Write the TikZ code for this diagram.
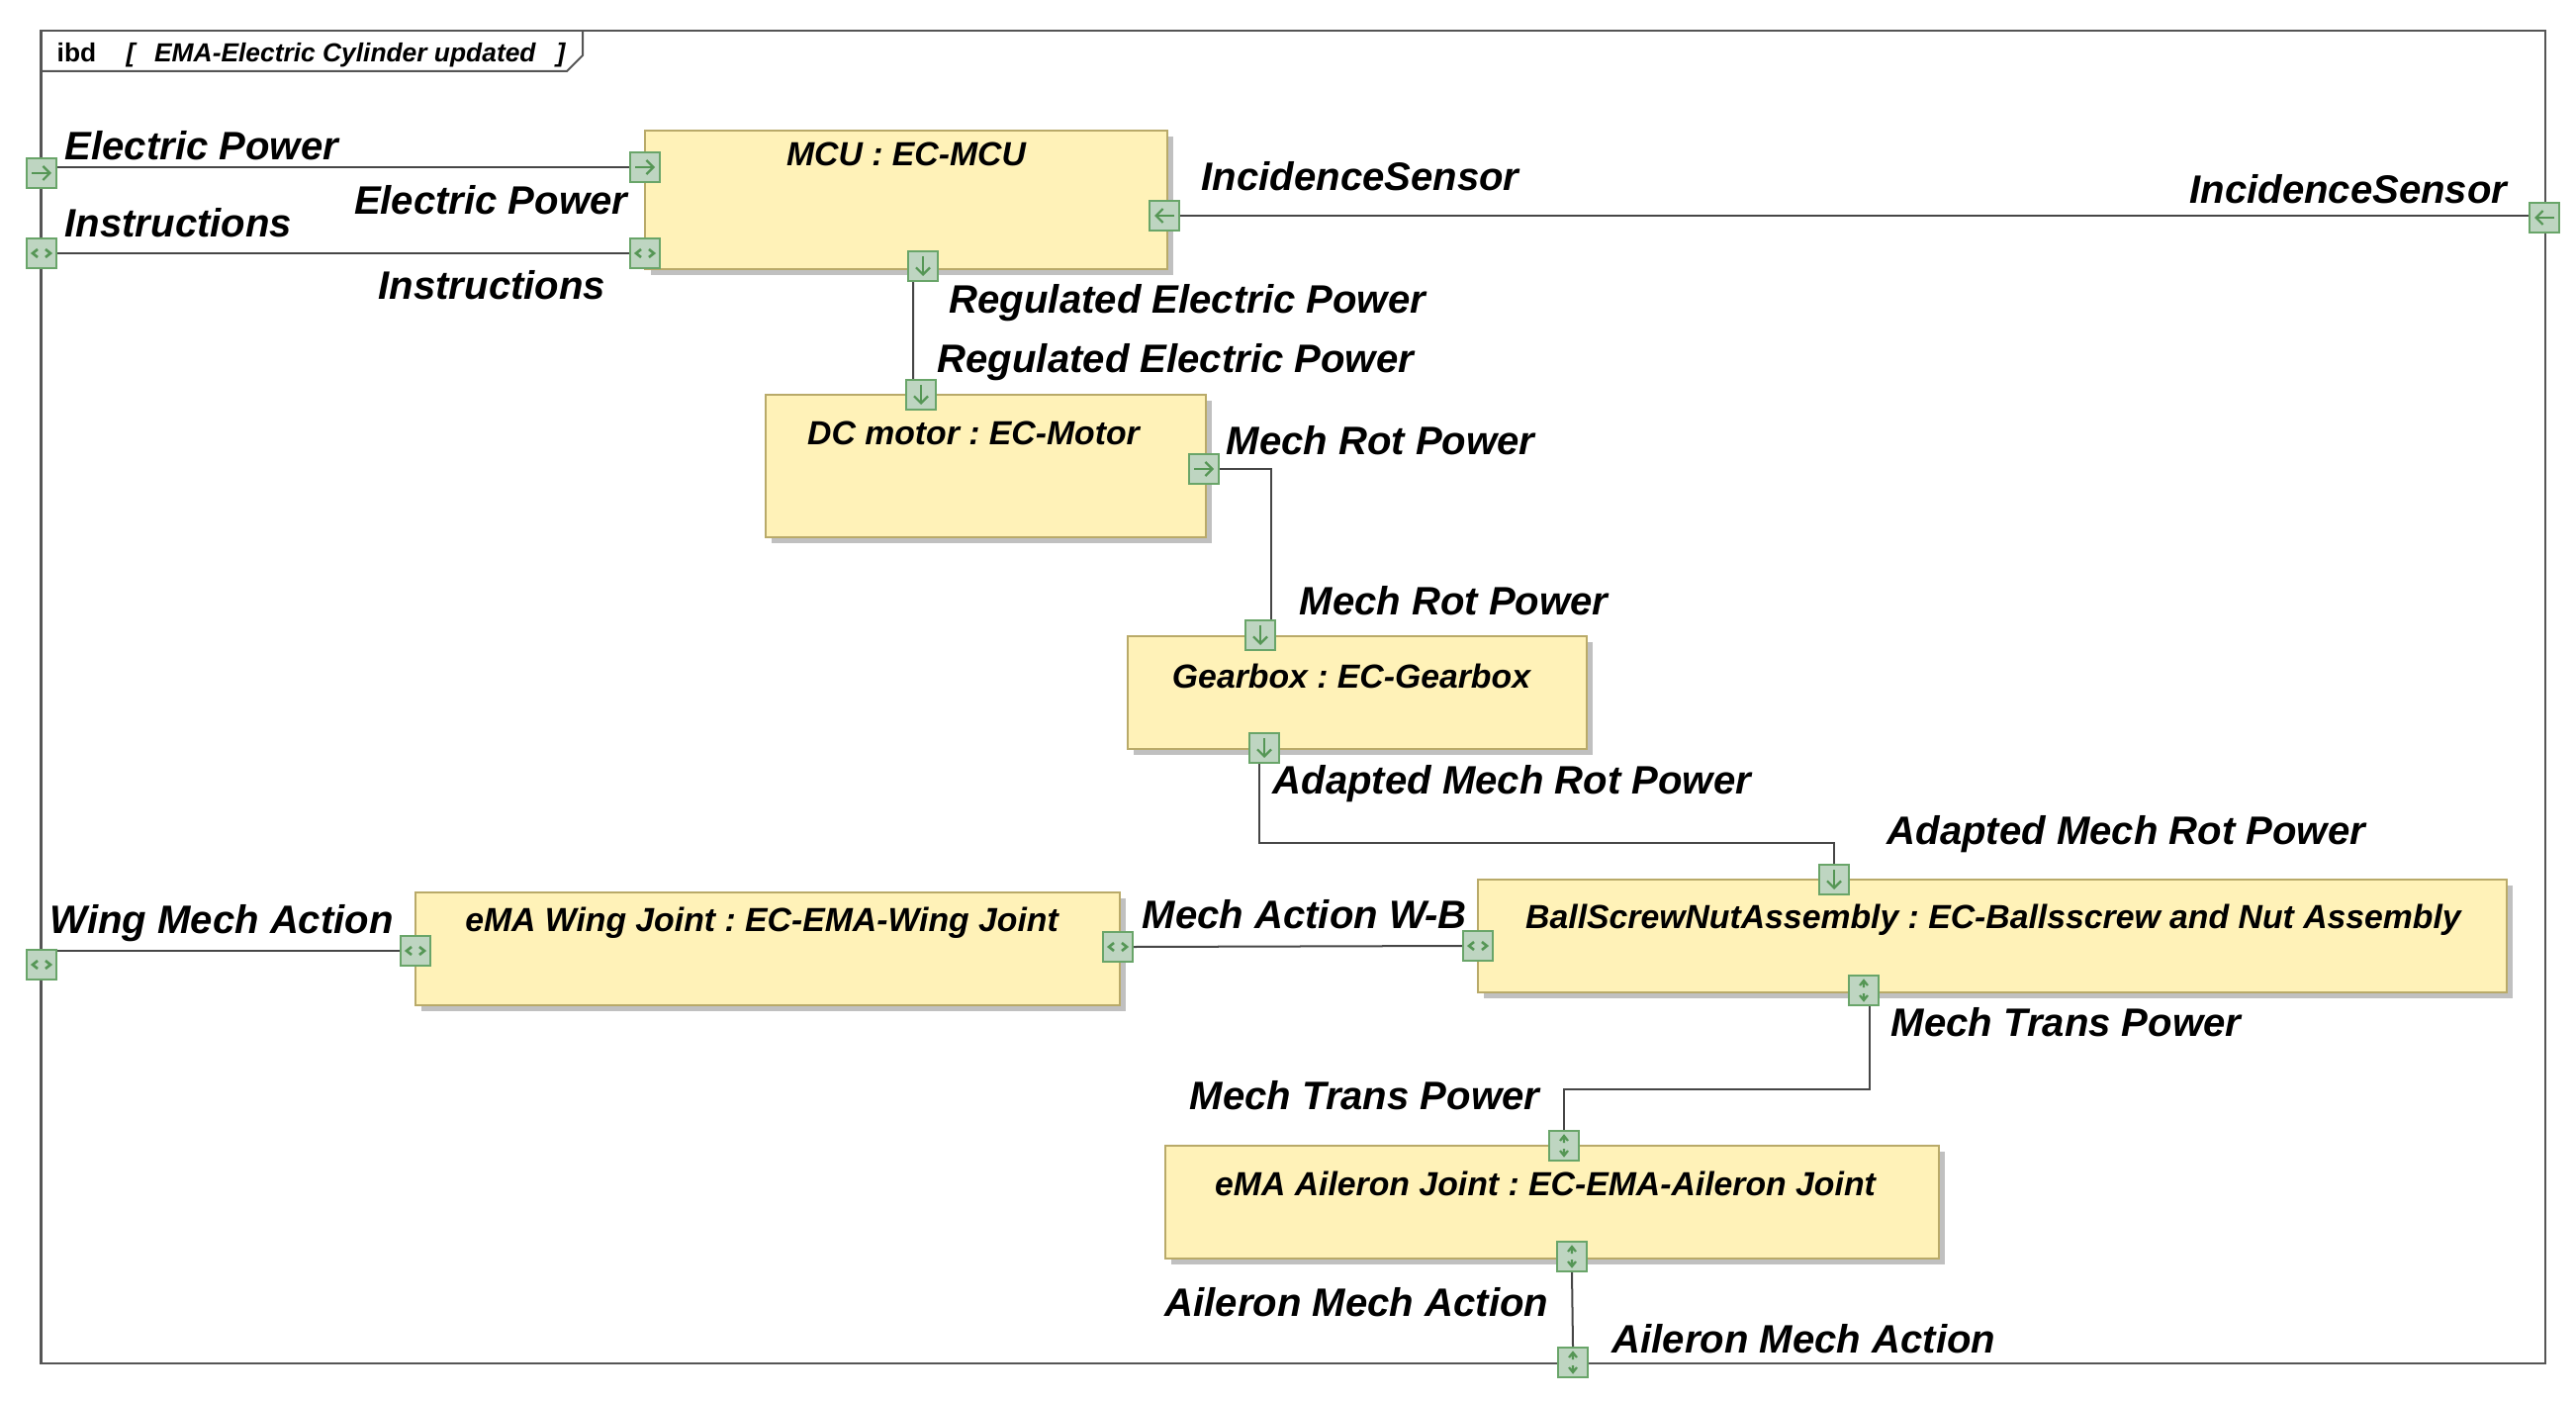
\documentclass[tikz,border=0pt]{standalone}
\usepackage{fontspec}
\setmainfont{Liberation Sans}
\usetikzlibrary{arrows.meta,shadows}
\frenchspacing
\begin{document}
\begin{tikzpicture}[x=0.01cm,y=-0.01cm,
  frameline/.style={draw=frameedge,line width=0.02cm},
  conn/.style={draw=connline,line width=0.02cm},
  part/.style={draw=partedge,fill=partfill,line width=0.02cm,anchor=north west,inner sep=0pt,
    drop shadow={shadow xshift=0.06cm,shadow yshift=-0.06cm,fill=shadowgray,opacity=1}},
  partname/.style={anchor=base,inner sep=0pt,font=\fontsize{9.6}{11}\selectfont\bfseries\itshape},
  flowname/.style={inner sep=0pt,font=\fontsize{11.4}{13}\selectfont\bfseries\itshape},
  port/.style={draw=portedge,fill=portfill,line width=0.022cm,minimum size=0.3cm,inner sep=0pt},
  glyph/.style={draw=portglyph,line width=0.022cm},
  barb/.style={glyph,-{Straight Barb[length=0.07cm,width=0.14cm]}},
  glyphR/.pic={\draw[barb] (-10,0) -- (10,0);},
  glyphL/.pic={\draw[barb] (10,0) -- (-10,0);},
  glyphD/.pic={\draw[barb] (0,-10) -- (0,10);},
  glyphH/.pic={\draw[glyph,line width=0.026cm] (-4,-4) -- (-9,0) -- (-4,4) (4,-4) -- (9,0) -- (4,4);},
  glyphV/.pic={\draw[glyph] (-4,-5) -- (0,-10) -- (4,-5) (0,-10) -- (0,-3) (0,3) -- (0,10) (-4,5) -- (0,10) -- (4,5);}]
  \definecolor{frameedge}{RGB}{85,85,85}
  \definecolor{connline}{RGB}{70,70,70}
  \definecolor{partedge}{RGB}{185,170,105}
  \definecolor{partfill}{RGB}{255,242,184}
  \definecolor{shadowgray}{RGB}{192,192,192}
  \definecolor{portedge}{RGB}{105,165,105}
  \definecolor{portfill}{RGB}{190,213,193}
  \definecolor{portglyph}{RGB}{85,150,85}

  \useasboundingbox (0,0) rectangle (2604,1416);

  \draw[frameline] (41.5,31) rectangle (2573,1378);
  \draw[frameline] (41.5,72) -- (573,72) -- (589,56) -- (589,31);
  \node[anchor=base west,inner sep=0pt,font=\fontsize{7.5}{9}\selectfont\bfseries] (title) at (57,63)
    {ibd\hspace{1.15em}\itshape[\hspace{0.75em}EMA-Electric Cylinder updated\hspace{0.8em}]};

  \node[part,minimum width=5.28cm,minimum height=1.40cm] (mcu) at (651,131) {};
  \node[part,minimum width=4.45cm,minimum height=1.44cm] (motor) at (773,398) {};
  \node[part,minimum width=4.64cm,minimum height=1.14cm] (gearbox) at (1139,642) {};
  \node[part,minimum width=10.39cm,minimum height=1.14cm] (ballscrew) at (1493,888) {};
  \node[part,minimum width=7.12cm,minimum height=1.14cm] (wing) at (419,901) {};
  \node[part,minimum width=7.82cm,minimum height=1.14cm] (aileron) at (1177,1157) {};

  \node[partname] (mcuname) at (916,168) {MCU : EC-MCU};
  \node[partname] (motorname) at (984,450) {DC motor : EC-Motor};
  \node[partname] (gearboxname) at (1366,695) {Gearbox : EC-Gearbox};
  \node[partname] (ballscrewname) at (2015,938) {BallScrewNutAssembly : EC-Ballsscrew and Nut Assembly};
  \node[partname] (wingname) at (770,941) {eMA Wing Joint : EC-EMA-Wing Joint};
  \node[partname] (aileronname) at (1562,1208) {eMA Aileron Joint : EC-EMA-Aileron Joint};

  \foreach \pname/\px/\py/\g in {fEP/42/175/R, fIn/42/256/H, fIS/2572/220/L, fWing/42/975/H, fAil/1590/1377/V,
      mEP/652/169/R, mIn/652/256/H, mIS/1177/218/L, mREP/933/269/D,
      dREP/931/399/D, dMRP/1217/474/R, gMRP/1274/642/D, gAMRP/1278/756/D,
      bAMRP/1854/889/D, bMAWB/1494/956/H, bMTP/1884/1001/V,
      wWMA/420/961/H, wMAWB/1130/957/H, aMTP/1581/1158/V, aAMA/1589/1270/V}
    {\node[port] (\pname) at (\px,\py) {}; \pic at (\pname) {glyph\g};}

  \draw[conn] (fEP.east |- mEP) -- (mEP.west);
  \draw[conn] (fIn.east) -- (mIn.west);
  \draw[conn] (mIS.east) -- (mIS.east -| fIS.west);
  \draw[conn] ([xshift=-0.1cm]mREP.south) -- ([xshift=-0.08cm]dREP.north);
  \draw[conn] (dMRP.east) -| ([xshift=0.11cm]gMRP.north);
  \coordinate (amrpbend) at (1560,852);
  \draw[conn] ([xshift=-0.05cm]gAMRP.south) |- (amrpbend) -| (bAMRP.north);
  \draw[conn] (fWing.east |- wWMA) -- (wWMA.west);
  \draw[conn] (wMAWB.east) -- (bMAWB.west);
  \coordinate (mtpbend) at (1700,1101);
  \draw[conn] ([xshift=0.06cm]bMTP.south) |- (mtpbend) -| (aMTP.north);
  \draw[conn] (aAMA.south) -- (fAil.north);

  \node[flowname,anchor=base west] (epout) at (65,162) {Electric Power};
  \node[flowname,anchor=base east] (epin) at (635,217) {Electric Power};
  \node[flowname,anchor=base west] (inout) at (65,240) {Instructions};
  \node[flowname,anchor=base west] (inin) at (382,303) {Instructions};
  \node[flowname,anchor=base west] (isin) at (1214,193) {IncidenceSensor};
  \node[flowname,anchor=base east] (isout) at (2535,206) {IncidenceSensor};
  \node[flowname,anchor=base west] (repout) at (959,317) {Regulated Electric Power};
  \node[flowname,anchor=base west] (repin) at (947,377) {Regulated Electric Power};
  \node[flowname,anchor=base west] (mrpout) at (1239,460) {Mech Rot Power};
  \node[flowname,anchor=base west] (mrpin) at (1313,621) {Mech Rot Power};
  \node[flowname,anchor=base west] (amrpout) at (1286,802) {Adapted Mech Rot Power};
  \node[flowname,anchor=base west] (amrpin) at (1907,853) {Adapted Mech Rot Power};
  \node[flowname,anchor=base west] (mawb) at (1154,938) {Mech Action W-B};
  \node[flowname,anchor=base west] (wma) at (50,943) {Wing Mech Action};
  \node[flowname,anchor=base west] (mtpout) at (1911,1047) {Mech Trans Power};
  \node[flowname,anchor=base west] (mtpin) at (1202,1121) {Mech Trans Power};
  \node[flowname,anchor=base west] (amain) at (1177,1330) {Aileron Mech Action};
  \node[flowname,anchor=base west] (amaout) at (1629,1367) {Aileron Mech Action};
\end{tikzpicture}
\end{document}
